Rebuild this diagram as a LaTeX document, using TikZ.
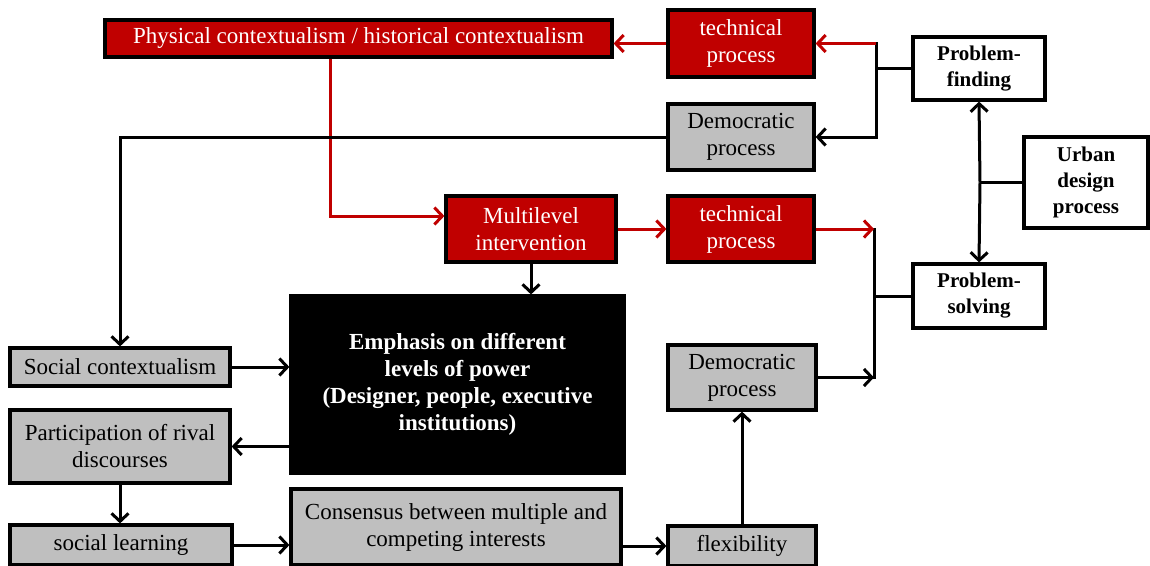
\documentclass[tikz,border=0pt]{standalone}
\usepackage{fontspec}
\setmainfont{Liberation Serif}
\usetikzlibrary{arrows.meta}
\definecolor{dred}{HTML}{C00000}
\definecolor{lgray}{HTML}{BFBFBF}
\begin{document}
\begin{tikzpicture}[x=1pt,y=-1pt,
  box/.style={draw=black,line width=3.2pt,inner sep=0pt,align=center,font=\fontsize{23}{27}\selectfont},
  sz/.style 2 args={minimum width=#1pt,minimum height=#2pt},
  redbox/.style={box,fill=dred,text=white},
  graybox/.style={box,fill=lgray},
  whitebox/.style={box,fill=white,font=\fontsize{21}{26}\selectfont\bfseries},
  blackbox/.style={box,fill=black,text=white,font=\fontsize{23}{27}\selectfont\bfseries},
  ln/.style={line width=3pt},
  arr/.style={line width=3pt,-{Straight Barb[length=8pt,width=17pt]}},
  rarr/.style={arr,draw=dred}]
\useasboundingbox (0,0) rectangle (1150,565);
\node[redbox,sz={507}{37}] (phys) at (358.5,38.5) {Physical contextualism / historical contextualism};
\node[redbox,sz={146}{67}] (tech1) at (741,43.5) {technical\\process};
\node[whitebox,sz={132}{63}] (pf) at (979,68.5) {Problem-\\finding};
\node[graybox,sz={146}{66}] (dem1) at (741,137) {Democratic\\process};
\node[whitebox,sz={124}{91}] (udp) at (1086,182.5) {Urban\\design\\process};
\node[redbox,sz={170}{66}] (multi) at (531,229) {Multilevel\\intervention};
\node[redbox,sz={146}{66}] (tech2) at (741,229) {technical\\process};
\node[whitebox,sz={132}{64}] (ps) at (979,296) {Problem-\\solving};
\node[blackbox,sz={333}{177}] (emph) at (457.5,384.5) {Emphasis on different\\levels of power\\(Designer, people, executive\\institutions)};
\node[graybox,sz={220}{38}] (social) at (120,367) {Social contextualism};
\node[graybox,sz={220}{73}] (partic) at (120,446.5) {Participation of rival\\discourses};
\node[graybox,sz={222}{40}] (sl) at (121,545) {social learning};
\node[graybox,sz={330}{76}] (cons) at (456,527) {Consensus between multiple and\\competing interests};
\node[graybox,sz={148}{65}] (dem2) at (742,377.5) {Democratic\\process};
\node[graybox,sz={148}{40}] (flex) at (742,546) {flexibility};
\coordinate (j1) at (876,0);
\coordinate (j2) at (874,0);
\coordinate (j3) at (980,0);
\coordinate (c330) at (330,0);
% problem finding branch
\draw[ln] (pf.west) -- (pf.west -| j1);
\draw[ln,line cap=rect] (tech1.east -| j1) -- (dem1.east -| j1);
\draw[rarr] (tech1.east -| j1) -- (tech1.east);
\draw[arr] (dem1.east -| j1) -- (dem1.east);
\draw[rarr] (tech1.west) -- (phys.east |- tech1.west);
\draw[rarr] (phys.south -| c330) |- ([yshift=13pt]multi.west);
\draw[arr] (dem1.west) -| (social.north);
% problem solving branch
\draw[rarr] (multi.east) -- (tech2.west);
\draw[ln,line cap=rect] (tech2.east -| j2) -- (dem2.east -| j2);
\draw[rarr] (tech2.east) -- (tech2.east -| j2);
\draw[ln] (ps.west) -- (ps.west -| j2);
\draw[arr] (dem2.east) -- (dem2.east -| j2);
\draw[arr] (multi.south) -- (multi.south |- emph.north);
% urban design
\draw[ln] (udp.west) -- (udp.west -| j3);
\draw[arr] (udp.west -| j3) -- (pf.south);
\draw[arr] (udp.west -| j3) -- (ps.north);
% lower left
\draw[arr] (social.east) -- (social.east -| emph.west);
\draw[arr] (emph.west |- partic.east) -- (partic.east);
\draw[arr] (partic.south) -- (partic.south |- sl.north);
\draw[arr] (sl.east) -- (sl.east -| cons.west);
\draw[arr] (cons.east |- flex.west) -- (flex.west);
\draw[arr] (flex.north) -- (dem2.south);
\end{tikzpicture}
\end{document}
